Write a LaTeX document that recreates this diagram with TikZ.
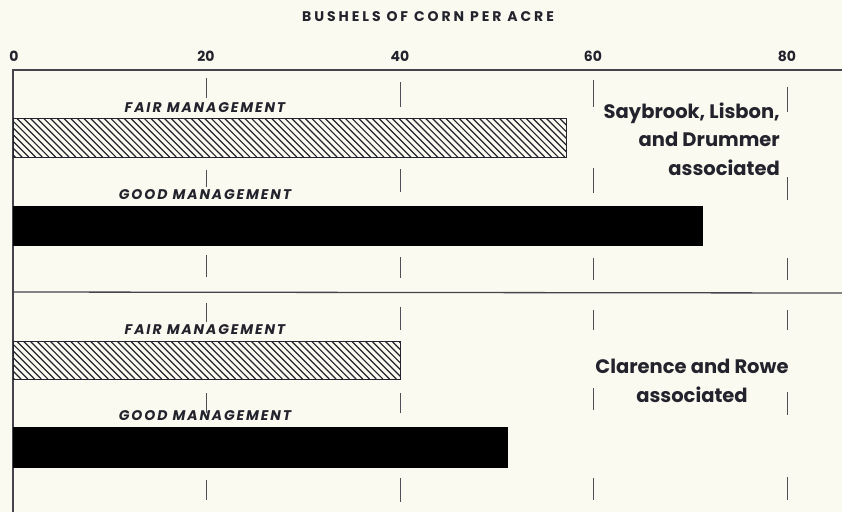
\documentclass[tikz,border=0pt]{standalone}
\usepackage{fontspec}
\setmainfont{Poppins}
\newfontfamily\capfont[LetterSpace=13.5]{Poppins}
\newfontfamily\titlefont[LetterSpace=21]{Poppins}
\definecolor{ink}{RGB}{35,35,45}
\definecolor{paper}{RGB}{251,250,240}
\begin{document}
\begin{tikzpicture}[x=1pt,y=-1pt,
  frame/.style={draw=ink!85,line width=1.3pt},
  tick/.style={draw=ink!80,line width=0.9pt},
  axislab/.style={font=\titlefont\bfseries\fontsize{14}{14}\selectfont,text=ink,inner sep=0pt},
  numlab/.style={font=\bfseries\fontsize{14}{14}\selectfont,text=ink,inner sep=0pt},
  mgmt/.style={font=\capfont\bfseries\itshape\fontsize{14}{14}\selectfont,text=ink,inner sep=0pt},
  soil/.style={font=\bfseries\fontsize{19.5}{28.5}\selectfont,text=ink,inner sep=0pt},
  solidbar/.style={fill=black,draw=black,line width=0.6pt},
  hatchline/.style={draw=ink,line width=1.2pt},
  hatchbox/.style={draw=ink,line width=1pt}]
\fill[paper] (0,0) rectangle (842,512);
\useasboundingbox (0,0) rectangle (842,512);
% title and axis labels
\node[axislab] (title) at (428,17) {BUSHELS OF CORN PER ACRE};
\node[numlab] (l0) at (14,56) {0};
\node[numlab] (l20) at (206,56) {20};
\node[numlab] (l40) at (400,56) {40};
\node[numlab] (l60) at (593,56) {60};
\node[numlab] (l80) at (787,56) {80};
% frame
\coordinate (tl) at (13,70);
\coordinate (tr) at (842,70);
\coordinate (bl) at (13,512);
\coordinate (ml) at (13,292);
\coordinate (mr) at (842,293);
\draw[frame] (tr) -- (tl) -- (bl);
\draw[frame] (ml) -- (mr);
% ticks
\foreach \x/\a/\b in {206/78/98,400/82/107,593/80/107,787/87/112,
                      206/170/187,400/169/192,593/168/193,787/177/200,
                      206/255/277,400/257/278,593/258/280,787/258/280,
                      206/303/322,400/307/330,593/310/330,787/310/330,
                      206/393/413,400/393/413,593/388/410,787/392/415,
                      206/480/500,400/478/502,593/478/500,787/477/500}
  \draw[tick] (\x,\a) -- (\x,\b);
% panel 1 bars
\begin{scope}
  \clip (13,118) rectangle (566,157);
  \foreach \i in {-50,-43.3,...,570}
    \draw[hatchline] (13+\i,118) -- (13+\i+39,157);
\end{scope}
\draw[hatchbox] (13,118) rectangle (566,157);
\draw[solidbar] (13,206) rectangle (702,245);
% panel 2 bars
\begin{scope}
  \clip (13,341) rectangle (400,379);
  \foreach \i in {-50,-43.3,...,400}
    \draw[hatchline] (13+\i,341) -- (13+\i+38,379);
\end{scope}
\draw[hatchbox] (13,341) rectangle (400,379);
\draw[solidbar] (13,427) rectangle (507,467);
% management labels
\node[mgmt,anchor=base] (f1) at (205,112) {FAIR MANAGEMENT};
\node[mgmt,anchor=base] (g1) at (205,199) {GOOD MANAGEMENT};
\node[mgmt,anchor=base] (f2) at (205,334) {FAIR MANAGEMENT};
\node[mgmt,anchor=base] (g2) at (205,420) {GOOD MANAGEMENT};
% soil labels
\node[soil,anchor=base east,align=right] (s1) at (780,175) {Saybrook, Lisbon,\\and Drummer\\associated};
\node[soil,anchor=base,align=center] (s2) at (692,402) {Clarence and Rowe\\associated};
\end{tikzpicture}
\end{document}
